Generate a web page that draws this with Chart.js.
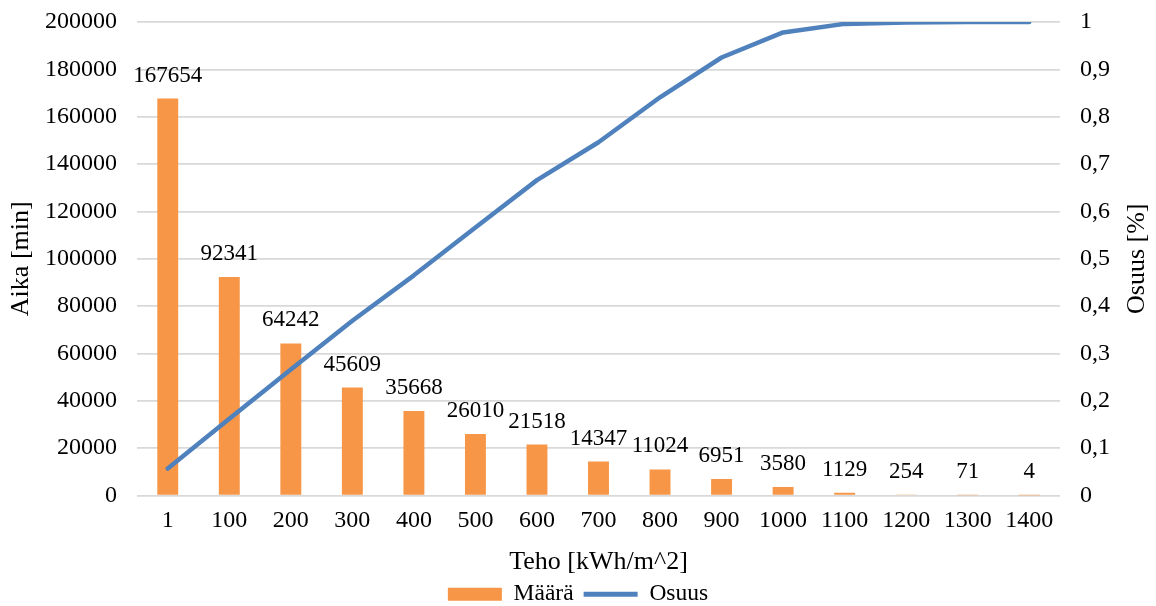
<!DOCTYPE html>
<html>
<head>
<meta charset="utf-8">
<script src="https://cdn.jsdelivr.net/npm/chart.js@4.4.1/dist/chart.umd.min.js"></script>
<style>
  html, body { margin: 0; padding: 0; background: #fff; }
  #wrap { width: 1156px; height: 606px; }
</style>
</head>
<body>
<div id="wrap"><canvas id="chart" width="1156" height="606"></canvas></div>
<script>
// data
const categories = ["1", "100", "200", "300", "400", "500", "600", "700", "800", "900", "1000", "1100", "1200", "1300", "1400"];
const maara = [167654, 92341, 64242, 45609, 35668, 26010, 21518, 14347, 11024, 6951, 3580, 1129, 254, 71, 4];
const osuus = [0.057, 0.162, 0.266, 0.369, 0.465, 0.566, 0.666, 0.746, 0.841, 0.925, 0.978, 0.996, 0.999, 1.0, 1.0];

const orange = "rgb(247, 150, 70)";
const blue = "rgb(79, 129, 189)";
const gridColor = "rgb(217, 217, 217)";
const fontFamily = "'Liberation Serif', 'Times New Roman', serif";
Chart.defaults.font.family = fontFamily;
Chart.defaults.font.size = 24;
Chart.defaults.color = "#000";

// value labels above the bars
const barLabels = {
  id: "barLabels",
  afterDatasetsDraw(chart) {
    const ctx = chart.ctx;
    const meta = chart.getDatasetMeta(1);
    ctx.save();
    ctx.font = "23px " + fontFamily;
    ctx.fillStyle = "#000";
    ctx.textAlign = "center";
    ctx.textBaseline = "alphabetic";
    meta.data.forEach((bar, i) => {
      ctx.fillText(String(maara[i]), bar.x, bar.y - 17);
    });
    ctx.restore();
  }
};

// right axis title, read bottom to top like the left one
const rightTitle = {
  id: "rightTitle",
  afterDraw(chart) {
    const ctx = chart.ctx;
    const area = chart.chartArea;
    ctx.save();
    ctx.translate(1137, (area.top + area.bottom) / 2);
    ctx.rotate(-Math.PI / 2);
    ctx.font = "26px " + fontFamily;
    ctx.fillStyle = "#000";
    ctx.textAlign = "center";
    ctx.textBaseline = "middle";
    ctx.fillText("Osuus [%]", 0, 0);
    ctx.restore();
  }
};

const ctx = document.getElementById("chart").getContext("2d");
new Chart(ctx, {
  type: "bar",
  data: {
    labels: categories,
    datasets: [
      {
        type: "line",
        label: "Osuus",
        data: osuus,
        yAxisID: "y1",
        borderColor: blue,
        backgroundColor: blue,
        borderWidth: 4.5,
        borderCapStyle: "round",
        borderJoinStyle: "round",
        pointRadius: 0,
        tension: 0,
        fill: false
      },
      {
        type: "bar",
        label: "Määrä",
        data: maara,
        yAxisID: "y",
        backgroundColor: orange,
        borderWidth: 0,
        categoryPercentage: 1,
        barPercentage: 0.34
      }
    ]
  },
  options: {
    responsive: false,
    animation: false,
    devicePixelRatio: 1,
    layout: { padding: { top: 22, left: 0, right: 0, bottom: -10 } },
    plugins: {
      tooltip: { enabled: false },
      legend: {
        position: "bottom",
        reverse: true,
        labels: {
          usePointStyle: true,
          pointStyleWidth: 54,
          boxHeight: 13,
          padding: 10,
          font: { size: 23.5 },
          generateLabels(chart) {
            const items = Chart.defaults.plugins.legend.labels.generateLabels(chart);
            items.forEach(it => {
              it.pointStyle = it.datasetIndex === 0 ? "line" : "rect";
              if (it.datasetIndex === 0) it.lineWidth = 5;
            });
            return items;
          }
        }
      }
    },
    scales: {
      x: {
        grid: { display: false, drawTicks: false },
        border: { display: false },
        ticks: { padding: 11, font: { size: 24 } },
        title: { display: true, text: "Teho [kWh/m^2]", font: { size: 26 }, padding: { top: 0, bottom: -5.6 } },
        afterFit(scale) { scale.height = 77; }
      },
      y: {
        position: "left",
        min: 0,
        max: 200000,
        ticks: { stepSize: 20000, padding: 3, font: { size: 24 }, callback: v => String(v) },
        grid: { color: gridColor, lineWidth: 1.7, drawTicks: true, tickLength: 17, tickColor: "rgba(0,0,0,0)" },
        border: { display: false },
        title: { display: true, text: "Aika [min]", font: { size: 26 }, padding: { top: 6, bottom: 0 } },
        afterFit(scale) { scale.width = 137; }
      },
      y1: {
        position: "right",
        min: 0,
        max: 1,
        ticks: {
          stepSize: 0.1,
          padding: 3,
          font: { size: 24 },
          callback: v => String(Math.round(v * 10) / 10).replace(".", ",")
        },
        grid: { display: true, drawOnChartArea: false, drawTicks: true, tickLength: 17, tickColor: "rgba(0,0,0,0)" },
        border: { display: false },
        afterFit(scale) { scale.width = 96; }
      }
    }
  },
  plugins: [barLabels, rightTitle]
});
</script>
</body>
</html>
